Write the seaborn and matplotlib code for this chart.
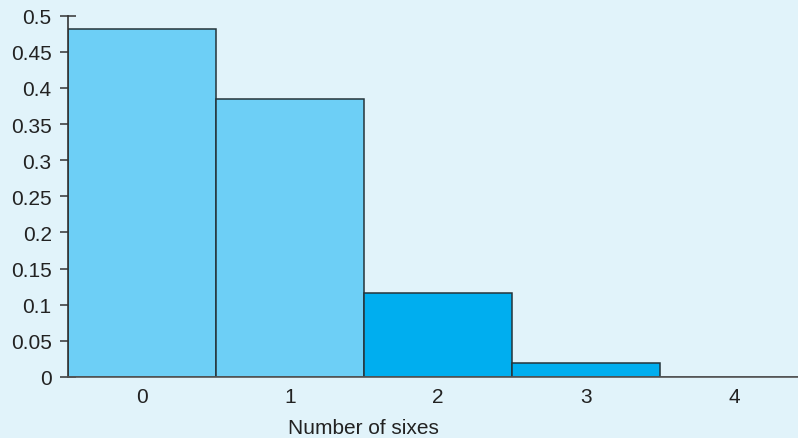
import matplotlib
matplotlib.use("Agg")
import matplotlib.pyplot as plt
import seaborn as sns
import pandas as pd

categories = ["0", "1", "2", "3", "4"]
probabilities = [0.4815, 0.385, 0.116, 0.0194, 0.0]
bar_colors = ["#6dcff6", "#6dcff6", "#00aeef", "#00aeef", "#00aeef"]
y_ticks = [0, 0.05, 0.1, 0.15, 0.2, 0.25, 0.3, 0.35, 0.4, 0.45, 0.5]
y_tick_labels = ["0", "0.05", "0.1", "0.15", "0.2", "0.25", "0.3", "0.35", "0.4", "0.45", "0.5"]

bg = "#e1f3fa"
sns.set_style("white")
plt.rcParams["font.family"] = ["Liberation Sans", "DejaVu Sans"]

df = pd.DataFrame({"sixes": categories, "p": probabilities, "c": categories})

fig = plt.figure(figsize=(7.98, 4.39), dpi=100, facecolor=bg)
ax = fig.add_axes([0.0852, 0.139, 0.9148, 0.823])
ax.set_facecolor(bg)

sns.barplot(data=df, x="sixes", y="p", hue="c", palette=dict(zip(categories, bar_colors)),
            width=1.0, edgecolor="#25343a", linewidth=1.1, legend=False, ax=ax,
            dodge=False, saturation=1)

ax.set_xlim(-0.5, 4.43)
ax.set_ylim(0, 0.5)
ax.set_yticks(y_ticks)
ax.set_yticklabels(y_tick_labels)
ax.tick_params(axis="y", direction="inout", length=11.5, width=1.1, color="#333333",
               labelsize=15, labelcolor="#222222", pad=6, left=True)
ax.tick_params(axis="x", length=0, labelsize=15, labelcolor="#222222", pad=7)
ax.set_xlabel("Number of sixes", fontsize=15, color="#222222")
ax.xaxis.set_label_coords(0.405, -0.113)
ax.set_ylabel("")

for s in ["top", "right"]:
    ax.spines[s].set_visible(False)
ax.spines["left"].set_color("#333333")
ax.spines["left"].set_linewidth(1.2)
ax.spines["bottom"].set_color("#555555")
ax.spines["bottom"].set_linewidth(1.2)

fig.savefig("out.png", dpi=100, facecolor=bg)
